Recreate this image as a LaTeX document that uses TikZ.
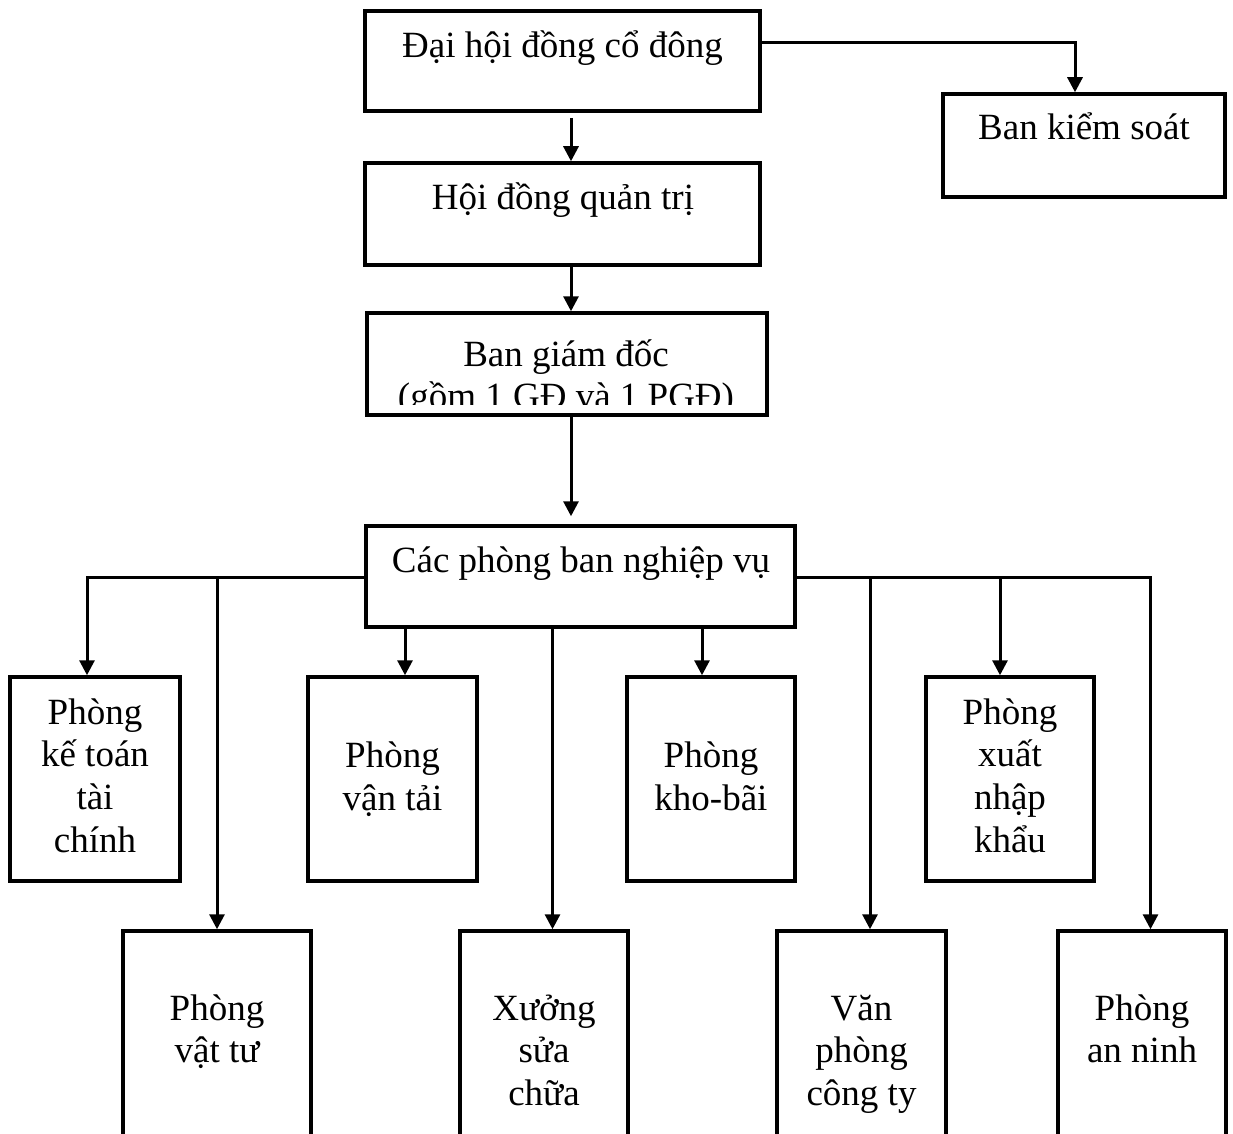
\documentclass[tikz,border=0pt]{standalone}
\usepackage{fontspec}
\setmainfont{Liberation Serif}
\usetikzlibrary{arrows.meta}
\begin{document}
\begin{tikzpicture}[x=1pt,y=-1pt,
  box/.style={draw, line width=3.5pt, rectangle, inner sep=0pt, fill=none},
  txt/.style={anchor=base, inner sep=0pt, font=\fontsize{37}{42.5}\selectfont},
  conn/.style={line width=3pt},
  arr/.style={line width=3pt, -{Triangle[length=15pt,width=15pt]}}]
\clip (0,0) rectangle (1233,1134);
\fill[white] (0,0) rectangle (1233,1134);
% top boxes
\node[box, minimum width=395pt, minimum height=100pt] (dh) at (562.5,61) {};
\node[box, minimum width=395pt, minimum height=102pt] (hd) at (562.5,214) {};
\node[box, minimum width=400pt, minimum height=102pt] (bgd) at (567,364) {};
\node[box, minimum width=282pt, minimum height=103pt] (bks) at (1084,145.5) {};
\node[box, minimum width=429pt, minimum height=101pt] (cp) at (580.5,576.5) {};
% row 1
\node[box, minimum width=170pt, minimum height=204pt] (ktc) at (95,779) {};
\node[box, minimum width=169pt, minimum height=204pt] (vt) at (392.5,779) {};
\node[box, minimum width=168pt, minimum height=204pt] (kb) at (711,779) {};
\node[box, minimum width=168pt, minimum height=204pt] (xnk) at (1010,779) {};
% row 2
\node[box, minimum width=188pt, minimum height=229pt] (vtu) at (217,1045.5) {};
\node[box, minimum width=168pt, minimum height=229pt] (xs) at (544,1045.5) {};
\node[box, minimum width=169pt, minimum height=229pt] (vp) at (861.5,1045.5) {};
\node[box, minimum width=168pt, minimum height=229pt] (an) at (1142,1045.5) {};
% texts
\node[txt] (t1) at (562.5,58) {Đại hội đồng cổ đông};
\node[txt] (t2) at (563,209) {Hội đồng quản trị};
\node[txt] (t3) at (1084,140) {Ban kiểm soát};
\node[txt] (t4a) at (566,366) {Ban giám đốc};
\begin{scope}
  \clip (367,380) rectangle (767,404);
  \node[txt] (t4b) at (566,408.5) {(gồm 1 GĐ và 1 PGĐ)};
\end{scope}
\node[txt] (t5) at (581,572) {Các phòng ban nghiệp vụ};
\node[txt] (k1) at (95,724) {Phòng};
\node[txt] (k2) at (95,766.7) {kế toán};
\node[txt] (k3) at (95,809.4) {tài};
\node[txt] (k4) at (95,852.1) {chính};
\node[txt] (v1) at (392.5,767.5) {Phòng};
\node[txt] (v2) at (392.5,810) {vận tải};
\node[txt] (b1) at (711,767.5) {Phòng};
\node[txt] (b2) at (711,810) {kho-bãi};
\node[txt] (x1) at (1010,724) {Phòng};
\node[txt] (x2) at (1010,766.7) {xuất};
\node[txt] (x3) at (1010,809.4) {nhập};
\node[txt] (x4) at (1010,852.1) {khẩu};
\node[txt] (u1) at (217,1020) {Phòng};
\node[txt] (u2) at (217,1062.7) {vật tư};
\node[txt] (s1) at (544,1020) {Xưởng};
\node[txt] (s2) at (544,1062.7) {sửa};
\node[txt] (s3) at (544,1105.4) {chữa};
\node[txt] (p1) at (861.5,1020) {Văn};
\node[txt] (p2) at (861.5,1062.7) {phòng};
\node[txt] (p3) at (861.5,1105.4) {công ty};
\node[txt] (n1) at (1142,1020) {Phòng};
\node[txt] (n2) at (1142,1062.7) {an ninh};
% connectors
\coordinate (c1) at (571,118);
\coordinate (k) at (1075,43);
\coordinate (bus) at (0,577);
\draw[arr] (c1) -- (hd.north -| c1);
\draw[arr] (dh.east |- k) -| (bks.north -| k);
\draw[arr] (hd.south -| c1) -- (bgd.north -| c1);
\draw[arr] (bgd.south -| c1) -- ([yshift=8pt]cp.north -| c1);
% left bus
\draw[arr] (cp.west |- bus) -| ([xshift=-8pt]ktc.north);
\coordinate (j1) at (vtu.north |- bus);
\draw[arr] (j1) -- (vtu.north);
% drops from bottom
\draw[arr] ([xshift=12.5pt]vt.north |- cp.south) -- ([xshift=12.5pt]vt.north);
\draw[arr] ([xshift=8.5pt]xs.north |- cp.south) -- ([xshift=8.5pt]xs.north);
\draw[arr] ([xshift=-9pt]kb.north |- cp.south) -- ([xshift=-9pt]kb.north);
% right bus
\draw[arr] (cp.east |- bus) -| ([xshift=8.5pt]an.north);
\coordinate (j2) at ([xshift=8.5pt]vp.north |- bus);
\draw[arr] (j2) -- ([xshift=8.5pt]vp.north);
\coordinate (j3) at ([xshift=-10pt]xnk.north |- bus);
\draw[arr] (j3) -- ([xshift=-10pt]xnk.north);
\end{tikzpicture}
\end{document}
